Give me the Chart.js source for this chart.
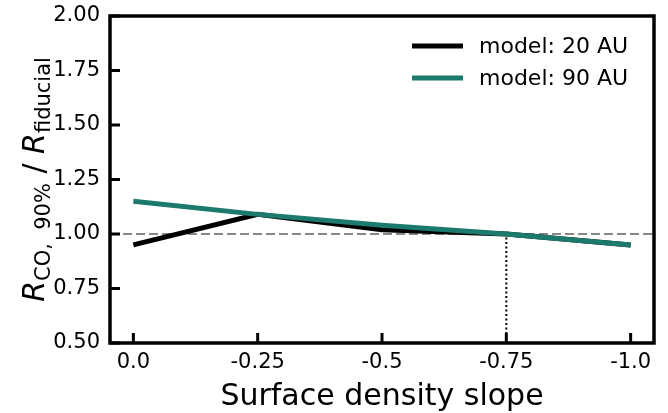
<!DOCTYPE html>
<html>
<head>
<meta charset="utf-8">
<script src="https://cdn.jsdelivr.net/npm/chart.js@4/dist/chart.umd.min.js"></script>
<style>
  html, body { margin: 0; padding: 0; background: #fff; }
  #wrap { width: 668px; height: 413px; }
</style>
</head>
<body>
<div id="wrap"><canvas id="slopeChart" width="668" height="413"></canvas></div>
<script>
// Data
const slopes = [0.0, -0.25, -0.5, -0.75, -1.0];
const xTickLabels = ['0.0', '-0.25', '-0.5', '-0.75', '-1.0'];
const model20 = [0.95, 1.09, 1.02, 1.00, 0.95];
const model90 = [1.15, 1.09, 1.04, 1.00, 0.95];
const yTicks = [0.5, 0.75, 1.0, 1.25, 1.5, 1.75, 2.0];
const refLevel = 1.0;
const markSlope = -0.75;

const FONT = '"DejaVu Sans", sans-serif';
const GREEN = '#1b7a6b';

const toPoints = vals => slopes.map((s, i) => ({ x: s, y: vals[i] }));

// Frame, inward ticks, reference lines, legend and axis titles
const decorPlugin = {
    id: 'decor',
    beforeDatasetsDraw(chart) {
        const { ctx, chartArea: a, scales: { x, y } } = chart;
        ctx.save();
        // dashed horizontal at 1.0
        ctx.strokeStyle = '#888888';
        ctx.lineWidth = 2;
        ctx.setLineDash([9, 4]);
        const yr = y.getPixelForValue(refLevel);
        ctx.beginPath();
        ctx.moveTo(a.left, yr);
        ctx.lineTo(a.right, yr);
        ctx.stroke();
        // dotted vertical at -0.75
        ctx.strokeStyle = '#000';
        ctx.lineWidth = 2;
        ctx.setLineDash([2, 2.5]);
        const xm = x.getPixelForValue(markSlope);
        ctx.beginPath();
        ctx.moveTo(xm, a.bottom);
        ctx.lineTo(xm, yr);
        ctx.stroke();
        ctx.restore();
    },
    afterDraw(chart) {
        const { ctx, chartArea: a, scales: { x, y } } = chart;
        ctx.save();
        ctx.strokeStyle = '#000';
        ctx.lineWidth = 3.5;
        ctx.strokeRect(a.left, a.top, a.right - a.left, a.bottom - a.top);
        ctx.lineWidth = 3;
        const len = 10;
        yTicks.forEach(v => {
            const py = y.getPixelForValue(v);
            ctx.beginPath();
            ctx.moveTo(a.left, py);
            ctx.lineTo(a.left + len, py);
            ctx.stroke();
        });
        slopes.forEach(v => {
            const px = x.getPixelForValue(v);
            ctx.beginPath();
            ctx.moveTo(px, a.bottom);
            ctx.lineTo(px, a.bottom - len);
            ctx.stroke();
        });

        // legend
        ctx.font = '22px ' + FONT;
        ctx.textAlign = 'left';
        ctx.textBaseline = 'middle';
        chart.data.datasets.forEach((ds, i) => {
            const ly = 46 + i * 32;
            ctx.strokeStyle = ds.borderColor;
            ctx.lineWidth = 5;
            ctx.beginPath();
            ctx.moveTo(412, ly);
            ctx.lineTo(463, ly);
            ctx.stroke();
            ctx.fillStyle = '#000';
            ctx.fillText(ds.label, 479, ly + 1);
        });

        // x title
        ctx.fillStyle = '#000';
        ctx.font = '30px ' + FONT;
        ctx.textAlign = 'center';
        ctx.textBaseline = 'alphabetic';
        ctx.fillText('Surface density slope', (a.left + a.right) / 2, 405);

        // y title with subscripts, rotated
        const parts = [
            { t: 'R', f: 'italic 30px ' + FONT, dy: 0 },
            { t: 'CO,  90%', f: '21px ' + FONT, dy: 6 },
            { t: ' / ', f: '30px ' + FONT, dy: 0 },
            { t: 'R', f: 'italic 30px ' + FONT, dy: 0 },
            { t: 'fiducial', f: '21px ' + FONT, dy: 6 }
        ];
        let total = 0;
        parts.forEach(p => { ctx.font = p.f; p.w = ctx.measureText(p.t).width; total += p.w; });
        ctx.translate(44, (a.top + a.bottom) / 2);
        ctx.rotate(-Math.PI / 2);
        ctx.textAlign = 'left';
        let cx = -total / 2;
        parts.forEach(p => {
            ctx.font = p.f;
            ctx.fillText(p.t, cx, p.dy);
            cx += p.w;
        });
        ctx.restore();
    }
};

const slopeCtx = document.getElementById('slopeChart').getContext('2d');
const slopeChart = new Chart(slopeCtx, {
    type: 'line',
    data: {
        datasets: [{
            label: 'model: 20 AU',
            data: toPoints(model20),
            borderColor: '#000000',
            borderWidth: 5,
            pointRadius: 0,
            tension: 0,
            order: 2
        }, {
            label: 'model: 90 AU',
            data: toPoints(model90),
            borderColor: GREEN,
            borderWidth: 5,
            pointRadius: 0,
            tension: 0,
            order: 1
        }]
    },
    options: {
        responsive: false,
        animation: false,
        layout: { padding: { top: 16, right: 14, left: 0, bottom: 0 } },
        plugins: {
            legend: { display: false },
            tooltip: { enabled: false }
        },
        scales: {
            x: {
                type: 'linear',
                reverse: true,
                min: -1.047,
                max: 0.047,
                afterBuildTicks(scale) {
                    scale.ticks = slopes.map(v => ({ value: v }));
                },
                afterFit(scale) {
                    scale.height = 70;
                    scale.paddingLeft = 0;
                    scale.paddingRight = 0;
                },
                grid: { display: false, drawTicks: false },
                border: { display: false },
                ticks: {
                    padding: 7,
                    color: '#000',
                    font: { family: FONT, size: 21 },
                    callback: (v) => xTickLabels[slopes.indexOf(v)]
                }
            },
            y: {
                min: 0.5,
                max: 2.0,
                afterBuildTicks(scale) {
                    scale.ticks = yTicks.map(v => ({ value: v }));
                },
                afterFit(scale) {
                    scale.width = 110;
                    scale.paddingTop = 0;
                    scale.paddingBottom = 0;
                },
                grid: { display: false, drawTicks: false },
                border: { display: false },
                ticks: {
                    padding: 10,
                    color: '#000',
                    font: { family: FONT, size: 21 },
                    callback: (v) => v.toFixed(2)
                }
            }
        }
    },
    plugins: [decorPlugin]
});
</script>
</body>
</html>
